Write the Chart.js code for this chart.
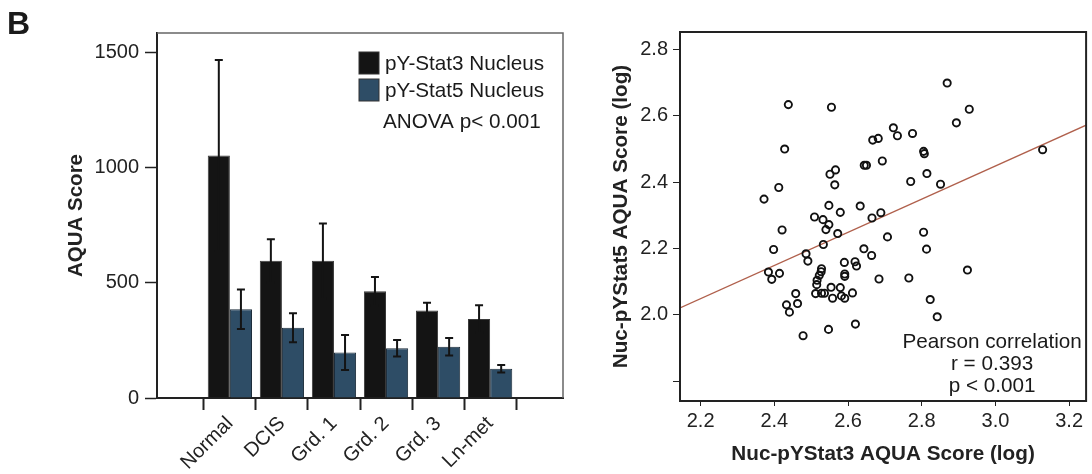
<!DOCTYPE html>
<html>
<head>
<meta charset="utf-8">
<script src="https://cdn.jsdelivr.net/npm/chart.js@4.4.0/dist/chart.umd.min.js"></script>
<style>
body { margin: 0; background: #fff; }
#left { position: absolute; left: 0; top: 0; }
#right { position: absolute; left: 575px; top: 0; }
</style>
</head>
<body>
<canvas id="left" width="580" height="474"></canvas>
<canvas id="right" width="517" height="474"></canvas>
<script>
// bar panel
var categories = ['Normal', 'DCIS', 'Grd. 1', 'Grd. 2', 'Grd. 3', 'Ln-met'];
var stat3Mean = [1052, 595, 595, 463, 379, 343];
var stat3Err = [414, 94, 162, 62, 34, 59];
var stat5Mean = [385, 305, 197, 216, 222, 127];
var stat5Err = [86, 63, 76, 36, 38, 16];
var barTicks = [0, 500, 1000, 1500];

// scatter panel
var stat3Log = [2.438, 2.555, 2.869, 2.929, 2.894, 2.428, 2.723, 2.734, 2.775, 2.667,
    2.682, 2.805, 2.807, 2.644, 2.650, 2.693, 3.128, 2.566, 2.551, 2.564,
    2.412, 2.770, 2.814, 2.851, 2.372, 2.548, 2.633, 2.579, 2.689, 2.509,
    2.532, 2.548, 2.540, 2.665, 2.421, 2.572, 2.805, 2.707, 2.533, 2.398,
    2.643, 2.813, 2.486, 2.491, 2.664, 2.590, 2.619, 2.623, 2.528, 2.527,
    2.522, 2.591, 2.591, 2.384, 2.414, 2.393, 2.516, 2.515, 2.684, 2.765,
    2.924, 2.554, 2.579, 2.512, 2.528, 2.536, 2.458, 2.558, 2.582, 2.591,
    2.612, 2.433, 2.463, 2.441, 2.823, 2.842, 2.620, 2.547, 2.478];
var stat5Log = [2.634, 2.626, 2.699, 2.620, 2.579, 2.500, 2.564, 2.540, 2.547, 2.527,
    2.532, 2.493, 2.486, 2.451, 2.451, 2.464, 2.498, 2.437, 2.424, 2.392,
    2.384, 2.402, 2.426, 2.394, 2.349, 2.330, 2.328, 2.309, 2.308, 2.295,
    2.287, 2.272, 2.257, 2.292, 2.256, 2.245, 2.249, 2.235, 2.212, 2.197,
    2.199, 2.198, 2.184, 2.162, 2.179, 2.158, 2.160, 2.147, 2.139, 2.130,
    2.119, 2.123, 2.116, 2.129, 2.125, 2.107, 2.104, 2.091, 2.108, 2.111,
    2.135, 2.083, 2.082, 2.064, 2.065, 2.065, 2.064, 2.050, 2.057, 2.050,
    2.066, 2.030, 2.034, 2.008, 2.046, 1.994, 1.972, 1.956, 1.937];
var xTicks = [2.2, 2.4, 2.6, 2.8, 3.0, 3.2];
var yTicks = [1.8, 2.0, 2.2, 2.4, 2.6, 2.8];
var fitSlope = 0.5;
var fitIntercept = 0.949;
var statsText = ['Pearson correlation', 'r = 0.393', 'p < 0.001'];

var FONT = '"Liberation Sans", Arial, sans-serif';
Chart.defaults.font.family = FONT;
Chart.defaults.color = '#222';

function toPoints(vals) {
    return vals.map(function (v, i) { return {x: i, y: v}; });
}

// whiskers are the bar colour-ish so the part inside a black bar disappears
var errorBars = {
    id: 'errorBars',
    afterDatasetsDraw: function (chart) {
        var ctx = chart.ctx, y = chart.scales.y;
        ctx.save();
        ctx.strokeStyle = '#141414';
        ctx.lineWidth = 2;
        chart.data.datasets.forEach(function (ds, di) {
            chart.getDatasetMeta(di).data.forEach(function (bar, i) {
                var top = y.getPixelForValue(ds.data[i].y + ds.err[i]);
                var bot = y.getPixelForValue(ds.data[i].y - ds.err[i]);
                ctx.beginPath();
                ctx.moveTo(bar.x, top); ctx.lineTo(bar.x, bot);
                ctx.moveTo(bar.x - 4, top); ctx.lineTo(bar.x + 4, top);
                ctx.moveTo(bar.x - 4, bot); ctx.lineTo(bar.x + 4, bot);
                ctx.stroke();
            });
        });
        ctx.restore();
    }
};

var leftDecor = {
    id: 'leftDecor',
    afterDraw: function (chart) {
        var ctx = chart.ctx, a = chart.chartArea;
        ctx.save();
        ctx.strokeStyle = '#666';
        ctx.lineWidth = 1.5;
        ctx.beginPath();
        ctx.moveTo(a.left, a.top);
        ctx.lineTo(a.right, a.top);
        ctx.lineTo(a.right, a.bottom);
        ctx.stroke();

        ctx.font = '20.7px ' + FONT;
        ctx.textBaseline = 'middle';
        chart.data.datasets.forEach(function (ds, i) {
            var yy = 52 + i * 27;
            ctx.fillStyle = ds.backgroundColor;
            ctx.fillRect(359, yy, 20, 22);
            ctx.strokeStyle = '#333';
            ctx.lineWidth = 1;
            ctx.strokeRect(359, yy, 20, 22);
            ctx.fillStyle = '#1a1a1a';
            ctx.fillText(ds.label, 385, yy + 12);
        });
        ctx.fillText('ANOVA p< 0.001', 383, 122);

        ctx.font = 'bold 32px ' + FONT;
        ctx.textBaseline = 'alphabetic';
        ctx.fillText('B', 7, 34);
        ctx.restore();
    }
};

new Chart(document.getElementById('left'), {
    type: 'bar',
    data: {
        datasets: [{
            label: 'pY-Stat3 Nucleus',
            data: toPoints(stat3Mean),
            err: stat3Err,
            backgroundColor: '#141414',
            borderColor: '#3a3a3a',
            borderWidth: 1
        }, {
            label: 'pY-Stat5 Nucleus',
            data: toPoints(stat5Mean),
            err: stat5Err,
            backgroundColor: '#2e4d66',
            borderColor: '#1c2c3a',
            borderWidth: 1
        }]
    },
    options: {
        responsive: false,
        animation: false,
        categoryPercentage: 0.85,
        barPercentage: 1,
        layout: { padding: { top: 33, right: 17, left: 0, bottom: 0 } },
        plugins: { legend: { display: false }, tooltip: { enabled: false } },
        scales: {
            x: {
                type: 'linear',
                min: -0.75,
                max: 5.75,
                afterBuildTicks: function (s) { s.ticks = categories.map(function (c, i) { return {value: i}; }); },
                afterFit: function (s) { s.height = 76; },
                grid: { drawOnChartArea: false, tickLength: 12, color: '#222', tickWidth: 2 },
                border: { color: '#222', width: 2 },
                ticks: {
                    minRotation: 45, maxRotation: 45, padding: 2,
                    font: { size: 20 },
                    callback: function (v) { return categories[v]; }
                }
            },
            y: {
                min: 0,
                max: 1583,
                afterBuildTicks: function (s) { s.ticks = barTicks.map(function (v) { return {value: v}; }); },
                afterFit: function (s) { s.width = 157; },
                grid: { drawOnChartArea: false, tickLength: 12, color: '#222', tickWidth: 1.5 },
                border: { color: '#222', width: 2 },
                ticks: { font: { size: 20 }, padding: 6, callback: function (v) { return String(v); } },
                title: { display: true, text: 'AQUA Score', font: { size: 20.5, weight: 'bold' }, padding: { top: 64 } }
            }
        }
    },
    plugins: [errorBars, leftDecor]
});

var rightDecor = {
    id: 'rightDecor',
    afterDraw: function (chart) {
        var ctx = chart.ctx, a = chart.chartArea;
        ctx.save();
        ctx.strokeStyle = '#222';
        ctx.lineWidth = 2;
        ctx.strokeRect(a.left, a.top, a.right - a.left, a.bottom - a.top);
        ctx.font = '20.7px ' + FONT;
        ctx.fillStyle = '#1a1a1a';
        ctx.textAlign = 'center';
        ctx.textBaseline = 'middle';
        statsText.forEach(function (t, i) {
            ctx.fillText(t, a.right - 94, 342 + i * 22);
        });
        ctx.restore();
    }
};

var xMin = 2.144, xMax = 3.246;

new Chart(document.getElementById('right'), {
    type: 'scatter',
    data: {
        datasets: [{
            data: stat3Log.map(function (x, i) { return {x: x, y: stat5Log[i]}; }),
            pointStyle: 'circle',
            pointRadius: 3.6,
            borderWidth: 1.9,
            borderColor: '#111',
            backgroundColor: 'rgba(0,0,0,0)',
            order: 1
        }, {
            type: 'line',
            data: [
                {x: xMin, y: fitIntercept + fitSlope * xMin},
                {x: xMax, y: fitIntercept + fitSlope * xMax}
            ],
            borderColor: '#b0604c',
            borderWidth: 1.3,
            pointRadius: 0,
            fill: false,
            order: 2
        }]
    },
    options: {
        responsive: false,
        animation: false,
        layout: { padding: { top: 32, right: 4, left: 0, bottom: 0 } },
        plugins: { legend: { display: false }, tooltip: { enabled: false } },
        scales: {
            x: {
                type: 'linear',
                min: xMin,
                max: xMax,
                afterBuildTicks: function (s) { s.ticks = xTicks.map(function (v) { return {value: v}; }); },
                afterFit: function (s) { s.height = 73; },
                grid: { drawOnChartArea: false, tickLength: 5, color: '#222' },
                border: { color: '#222', width: 2 },
                ticks: { font: { size: 20 }, padding: 3, callback: function (v) { return v.toFixed(1); } },
                title: { display: true, text: 'Nuc-pYStat3 AQUA Score (log)', font: { size: 20.7, weight: 'bold' }, padding: { bottom: 7 } }
            },
            y: {
                type: 'linear',
                min: 1.74,
                max: 2.853,
                afterBuildTicks: function (s) { s.ticks = yTicks.map(function (v) { return {value: v}; }); },
                afterFit: function (s) { s.width = 105; },
                grid: { drawOnChartArea: false, tickLength: 7, color: '#222' },
                border: { color: '#222', width: 2 },
                ticks: { font: { size: 20 }, padding: 5, callback: function (v) { return v < 1.9 ? '' : v.toFixed(1); } },
                title: { display: true, text: 'Nuc-pYStat5 AQUA Score (log)', font: { size: 20.7, weight: 'bold' }, padding: { top: 34 } }
            }
        }
    },
    plugins: [rightDecor]
});
</script>
</body>
</html>
